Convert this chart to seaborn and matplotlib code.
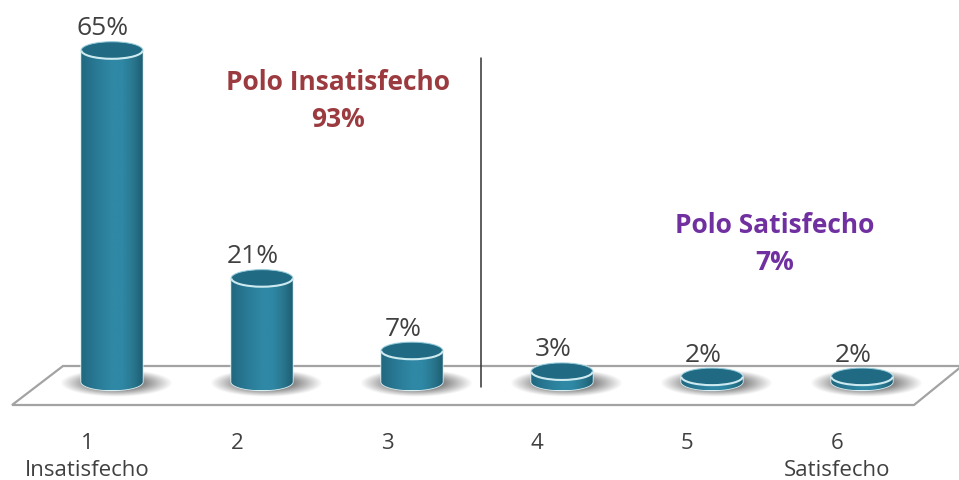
import numpy as np
import pandas as pd
import seaborn as sns
import matplotlib.pyplot as plt
from matplotlib.colors import LinearSegmentedColormap
from matplotlib.patches import Arc, Ellipse, Polygon
from matplotlib.path import Path
from matplotlib.transforms import Affine2D

# values
categories = ["1", "2", "3", "4", "5", "6"]
values = [65, 21, 7, 3, 2, 2]
value_labels = ["65%", "21%", "7%", "3%", "2%", "2%"]
tick_labels = ["1\nInsatisfecho", "2", "3", "4", "5", "6\nSatisfecho"]
left_title = "Polo Insatisfecho\n93%"
right_title = "Polo Satisfecho\n7%"

W, H = 959, 480
PX_PER_UNIT = 5.18   # vertical pixels per percentage point
BASE_PX = 387
CAT_PX = 150
FIRST_PX = 112

sns.set_theme(style="white")
plt.rcParams["font.family"] = ["Open Sans", "DejaVu Sans"]

fig = plt.figure(figsize=(W / 100, H / 100), dpi=100)
ax = fig.add_axes([0, (H - BASE_PX) / H, 1, BASE_PX / H])
ax.patch.set_alpha(0)
px = Affine2D().scale(1 / W, -1 / H).translate(0, 1) + fig.transFigure

df = pd.DataFrame({"cat": categories, "val": values})
sns.barplot(data=df, x="cat", y="val", color="#2a7c98", width=0.41, ax=ax, zorder=5)

# floor
floor = Polygon([(12, 405), (63, 366), (962, 366), (914, 405)], closed=True, fc="white",
                ec="#a3a3a3", lw=1.6, transform=px, clip_on=False, zorder=1)
ax.add_patch(floor)

cyl = LinearSegmentedColormap.from_list(
    "cyl", ["#22687f", "#27748f", "#2b7f9b", "#2f88a5", "#2f88a5", "#2a7890", "#1e5f75"])

sy = 8.5 / PX_PER_UNIT
base_y = 1.0
theta = np.linspace(0, np.pi, 60)

for patch, val in zip(ax.patches, values):
    x0, w = patch.get_x(), patch.get_width()
    xc = x0 + w / 2
    a = w / 2

    # soft shadow under the bar
    gx, gy = np.meshgrid(np.linspace(-1, 1, 120), np.linspace(-1, 1, 40))
    alpha = np.clip((1 - np.sqrt(gx ** 2 + gy ** 2)) * 2.0, 0, 1) * 0.75
    rgba = np.zeros(alpha.shape + (4,))
    rgba[..., :3] = 0.38
    rgba[..., 3] = alpha
    im = ax.imshow(rgba, extent=(xc - a * 1.7, xc + a * 1.95, base_y - 2.9, base_y + 2.4),
                   aspect="auto", zorder=2, interpolation="bilinear")
    im.set_clip_box(fig.bbox)

    # cylinder outline from the bar's own geometry
    top_x = xc + a * np.cos(theta)
    top_y = val + sy * np.sin(theta)
    bot_x = xc - a * np.cos(theta)
    bot_y = base_y - sy * np.sin(theta)
    verts = np.column_stack([np.r_[top_x, bot_x], np.r_[top_y, bot_y]])
    shape = Path(np.vstack([verts, verts[0]]), closed=True)

    glow = Polygon(verts, closed=True, fc="none", ec="#d8eef3", lw=1.2, zorder=5.5, clip_on=False)
    ax.add_patch(glow)

    grad = np.linspace(0, 1, 128).reshape(1, -1)
    body = ax.imshow(grad, cmap=cyl, extent=(x0, x0 + w, base_y - sy, val + sy),
                     aspect="auto", zorder=6)
    body.set_clip_path(shape, ax.transData)
    body.set_clip_box(fig.bbox)
    patch.set_visible(False)

    # top face and its light rim
    ax.add_patch(Ellipse((xc, val), w * 0.99, 2 * sy, fc="#216a84", ec="none", zorder=7, clip_on=False))
    ax.add_patch(Arc((xc, val), w, 2 * sy, theta1=180, theta2=360, ec="#cdeaf0", lw=1.5, zorder=8, clip_on=False))
    ax.add_patch(Arc((xc, val), w, 2 * sy, theta1=0, theta2=180, ec="#9fd2df", lw=0.6, zorder=8, clip_on=False))

for i, (val, lab) in enumerate(zip(values, value_labels)):
    ax.annotate(lab, (i, val), xytext=(-6.5, 15.5), textcoords="offset points", ha="center",
                va="center", fontsize=19, color="#404040", zorder=9, annotation_clip=False)

# divider between the two poles
ax.plot([481, 481], [58, 387], color="#333333", lw=1.1, transform=px, zorder=4, clip_on=False)

ax.text(338, 101, left_title, transform=px, ha="center", va="center", fontsize=19,
        fontweight="bold", color="#9b3b40", linespacing=1.45)
ax.text(775, 244, right_title, transform=px, ha="center", va="center", fontsize=19,
        fontweight="bold", color="#7030a0", linespacing=1.45)

ax.set_xlim(-FIRST_PX / CAT_PX, (W - FIRST_PX) / CAT_PX)
ax.set_ylim(0, BASE_PX / PX_PER_UNIT)
ax.set_xticks(np.arange(len(categories)) - 25 / CAT_PX, tick_labels)
ax.tick_params(axis="x", length=0, pad=33, labelsize=16, labelcolor="#404040")
for t in ax.get_xticklabels():
    t.set_linespacing(1.4)
ax.set_yticks([])
ax.set_xlabel("")
ax.set_ylabel("")
sns.despine(ax=ax, left=True, bottom=True)

fig.savefig("out.png", dpi=100, facecolor="white")
